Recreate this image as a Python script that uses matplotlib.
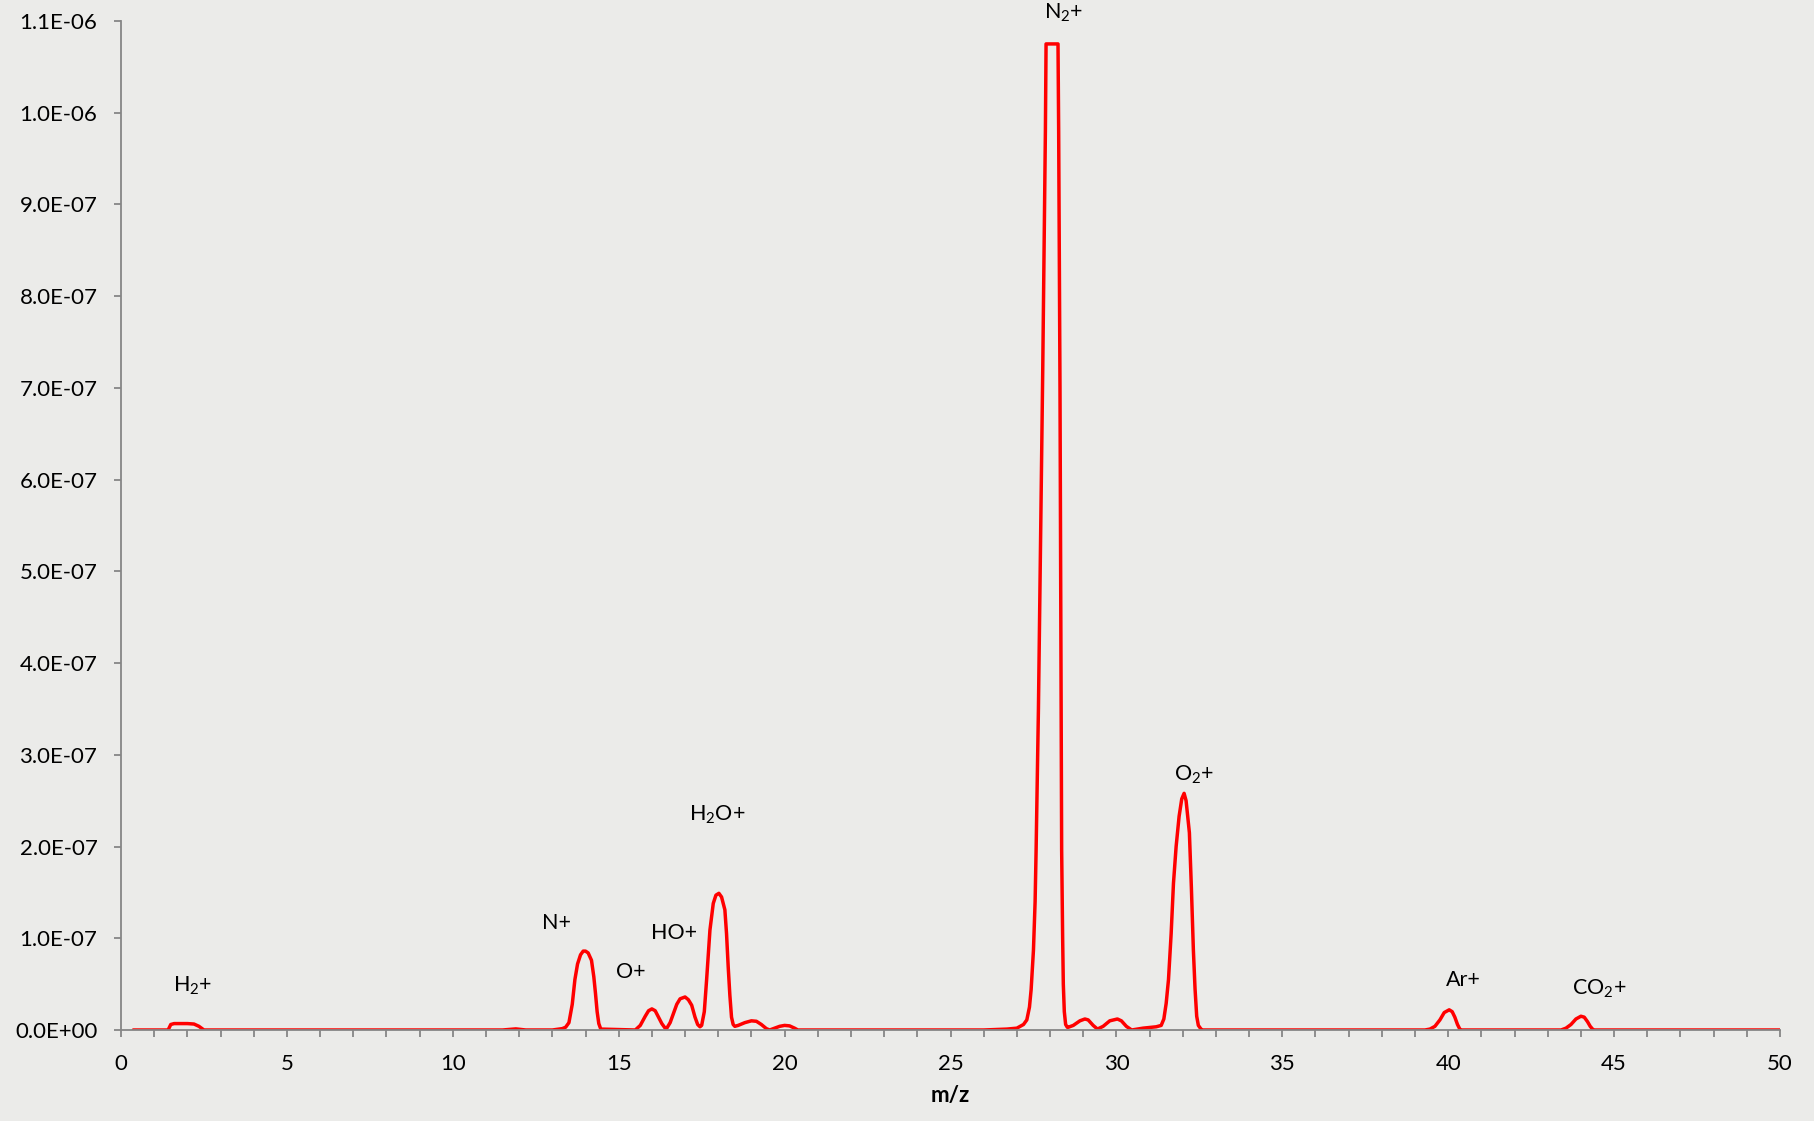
import matplotlib
matplotlib.use("Agg")
import matplotlib.pyplot as plt
from matplotlib.ticker import MultipleLocator, FuncFormatter

plt.rcParams['font.family'] = ['Lato', 'DejaVu Sans']
plt.rcParams['mathtext.fontset'] = 'custom'
plt.rcParams['mathtext.rm'] = 'Lato'
plt.rcParams['mathtext.default'] = 'rm'

# m/z trace (intensity in units of 1e-7)
mz = [0.37, 1.42, 1.5, 1.6, 2.0, 2.2, 2.35, 2.5,
      11.5, 11.9, 12.2, 13.0, 13.3,
      13.4, 13.5, 13.6, 13.68, 13.76, 13.85, 13.93, 14.0, 14.08, 14.18, 14.25, 14.3, 14.35, 14.4, 14.46,
      15.5, 15.65, 15.8, 15.9, 16.0, 16.1, 16.2, 16.3, 16.4, 16.45,
      16.55, 16.65, 16.75, 16.85, 17.0, 17.1, 17.2, 17.3, 17.38, 17.45,
      17.5, 17.58, 17.65, 17.75, 17.85, 17.93, 18.02, 18.1, 18.2, 18.25, 18.3, 18.35, 18.4, 18.45, 18.5,
      18.6, 18.8, 19.0, 19.15, 19.3, 19.45, 19.55, 19.7, 19.85, 20.0, 20.15, 20.3, 20.4,
      26.0, 26.7, 27.0, 27.2, 27.3, 27.38, 27.43, 27.5, 27.55, 27.58, 27.65, 27.72, 27.78, 27.82, 27.86, 27.88,
      28.24, 28.26, 28.28, 28.3, 28.32, 28.34, 28.35, 28.38, 28.4, 28.43, 28.47, 28.52, 28.55,
      28.7, 28.9, 29.05, 29.15, 29.3, 29.43, 29.6, 29.8, 30.03, 30.15, 30.3, 30.46,
      30.8, 31.2, 31.35, 31.43, 31.5, 31.57, 31.65, 31.72, 31.8, 31.89, 31.97, 32.04, 32.1, 32.2,
      32.26, 32.32, 32.37, 32.42, 32.47, 32.55, 32.6,
      39.3, 39.45, 39.6, 39.75, 39.88, 40.03, 40.12, 40.2, 40.28, 40.35, 40.4,
      43.4, 43.55, 43.7, 43.85, 44.0, 44.1, 44.2, 44.28, 44.35, 44.4, 50.0]
signal = [0, 0, 0.06, 0.07, 0.07, 0.065, 0.04, 0,
          0, 0.012, 0, 0, 0.015,
          0.03, 0.08, 0.28, 0.55, 0.72, 0.82, 0.86, 0.86, 0.84, 0.76, 0.58, 0.4, 0.2, 0.07, 0.01,
          0, 0.05, 0.15, 0.21, 0.23, 0.21, 0.14, 0.07, 0.02, 0.02,
          0.08, 0.18, 0.28, 0.34, 0.36, 0.33, 0.27, 0.14, 0.06, 0.035,
          0.05, 0.2, 0.55, 1.09, 1.38, 1.47, 1.49, 1.45, 1.31, 1.05, 0.69, 0.38, 0.14, 0.06, 0.04,
          0.05, 0.08, 0.1, 0.095, 0.06, 0.015, 0, 0.02, 0.04, 0.05, 0.045, 0.02, 0,
          0, 0.01, 0.02, 0.06, 0.11, 0.25, 0.44, 0.87, 1.4, 1.96, 3.5, 5.5, 7.2, 8.5, 9.8, 10.75,
          10.75, 9.8, 8.5, 7.0, 5.0, 3.0, 1.96, 1.0, 0.5, 0.2, 0.06, 0.03, 0.03,
          0.05, 0.1, 0.12, 0.11, 0.05, 0.01, 0.04, 0.1, 0.12, 0.1, 0.04, 0,
          0.02, 0.035, 0.05, 0.12, 0.29, 0.55, 1.05, 1.6, 2.0, 2.33, 2.52, 2.58, 2.5, 2.15,
          1.55, 0.87, 0.45, 0.15, 0.05, 0.01, 0,
          0, 0.01, 0.04, 0.11, 0.19, 0.22, 0.2, 0.14, 0.06, 0.01, 0,
          0, 0.02, 0.06, 0.12, 0.15, 0.14, 0.09, 0.04, 0.01, 0, 0]

ion_labels = ['H$_2$+', 'N+', 'O+', 'HO+', 'H$_2$O+', 'N$_2$+', 'O$_2$+', 'Ar+', 'CO$_2$+']
label_mz = [2.17, 13.13, 15.36, 16.68, 17.96, 28.42, 32.34, 40.46, 44.54]
label_y = [0.48, 1.17, 0.63, 1.06, 2.35, 11.09, 2.78, 0.545, 0.45]

bg = '#ebebe9'
fig = plt.figure(figsize=(18.14, 11.21), dpi=100, facecolor=bg)
ax = fig.add_axes([121/1814, 1 - 1030/1121, (1780 - 121)/1814, (1030 - 21)/1121])
ax.set_facecolor(bg)

ax.plot(mz, [v * 1e-7 for v in signal], color='#ff0000', lw=2.5,
        solid_joinstyle='round', solid_capstyle='round')

for lab, xx, yy in zip(ion_labels, label_mz, label_y):
    ax.text(xx, yy * 1e-7, lab, ha='center', va='center', fontsize=15.5, clip_on=False)

ax.set_xlim(0, 50)
ax.set_ylim(0, 1.1e-6)
ax.xaxis.set_major_locator(MultipleLocator(5))
ax.xaxis.set_minor_locator(MultipleLocator(1))
ax.yaxis.set_major_locator(MultipleLocator(1e-7))
ax.yaxis.set_major_formatter(FuncFormatter(lambda v, p: '%.1E' % v))

for s in ['top', 'right']:
    ax.spines[s].set_visible(False)
for s in ['left', 'bottom']:
    ax.spines[s].set_color('#868686')
    ax.spines[s].set_linewidth(1.3)
ax.tick_params(which='both', direction='out', length=5, width=1.3, color='#868686',
               labelsize=16, labelcolor='black')
ax.tick_params(axis='x', which='major', pad=12)
ax.tick_params(axis='y', which='major', pad=12)

ax.set_xlabel('m/z', fontsize=16, fontweight='bold', labelpad=8)

plt.savefig('out.png', dpi=100, facecolor=bg)
plt.close()
